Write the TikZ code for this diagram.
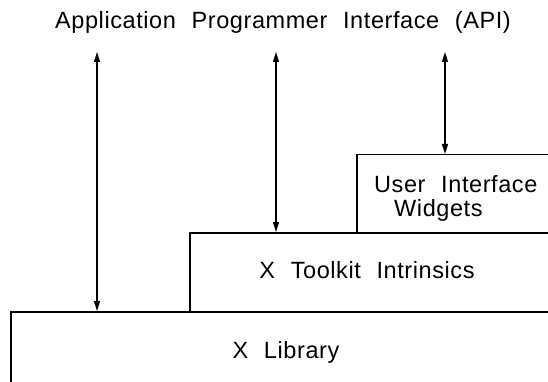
\documentclass[tikz,border=0pt]{standalone}
\usepackage{fontspec}
\setmainfont{Liberation Sans}[WordSpace=2.2,LetterSpace=2.5]
\usepackage{tikz}
\usetikzlibrary{positioning,arrows.meta}
\tikzset{
  layer/.style={draw=black,line width=1.5pt,anchor=north west,inner sep=0pt},
  layertext/.style={anchor=base,inner sep=0pt,
    font=\fontsize{23.5}{24}\selectfont},
  apiarrow/.style={line width=1.5pt,{Triangle[length=10pt,width=6pt]}-{Triangle[length=10pt,width=6pt]}},
}

\begin{document}
\begin{tikzpicture}[x=1pt,y=-1pt]
  \clip (0,0) rectangle (548,382);
  % stacked layers, open to the right and bottom
  \node[layer,minimum width=560pt,minimum height=90pt] (xlib) at (10,311) {};
  \node[layer,minimum width=380pt,minimum height=79pt] (xt) at (189,232) {};
  \node[layer,minimum width=210pt,minimum height=78pt] (uiw) at (356,154) {};
  \node[layertext] (xlibtext) at (286,358) {X Library};
  \node[layertext] (xttext) at (367,278) {X Toolkit Intrinsics};
  \node[layertext,align=left,anchor=north west] (uiwtext) at (374,175)
    {User Interface\\\hspace*{20pt}Widgets};
  \node[layertext] (api) at (283,29) {Application Programmer Interface (API)};
  % arrow tops under the API line
  \coordinate (top1) at (97,52);
  \coordinate (top2) at (276,52);
  \coordinate (top3) at (445,52);
  \draw[apiarrow] (top1) -- (top1 |- xlib.north);
  \draw[apiarrow] (top2) -- (top2 |- xt.north);
  \draw[apiarrow] (top3) -- (top3 |- uiw.north);
\end{tikzpicture}
\end{document}
